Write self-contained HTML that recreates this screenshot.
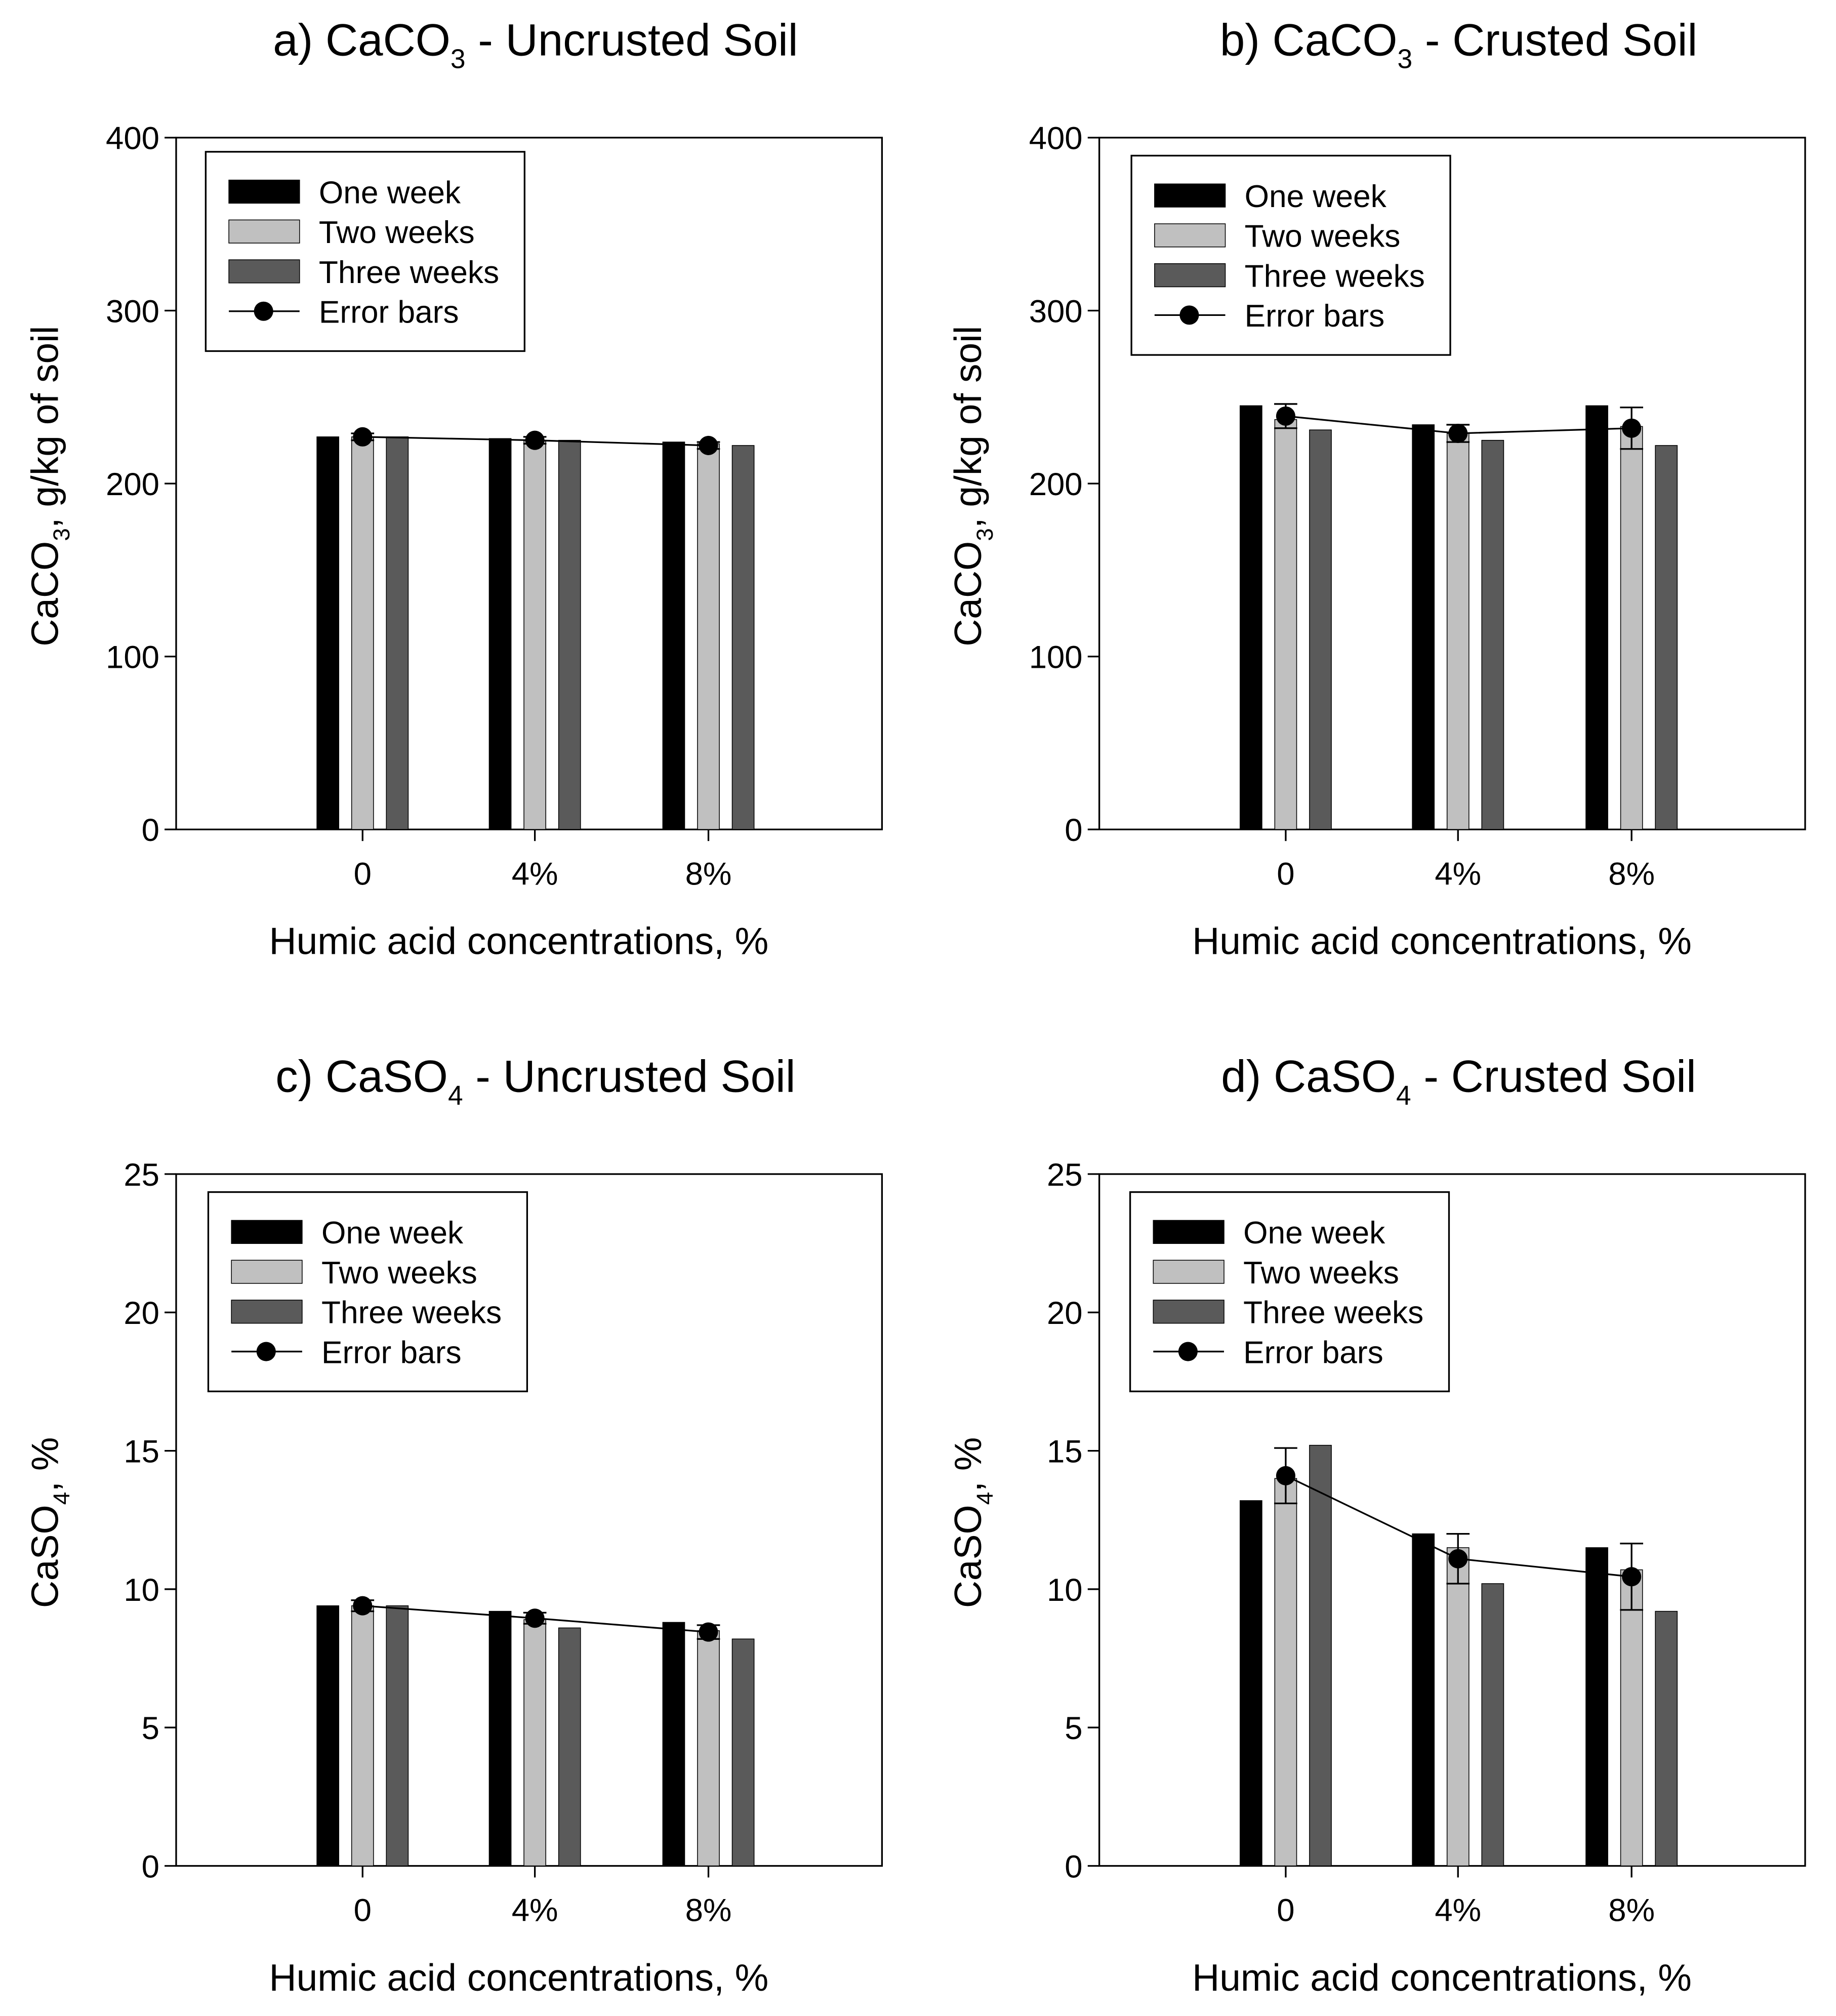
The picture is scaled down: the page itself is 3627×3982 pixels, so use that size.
<!DOCTYPE html>
<html><head><meta charset="utf-8"><style>
html,body{margin:0;padding:0;background:#fff;}
svg{display:block;font-family:"Liberation Sans",Arial,sans-serif;}
</style></head><body>
<svg id="fig" width="3627" height="3982" viewBox="0 0 1428 1567.7" xmlns="http://www.w3.org/2000/svg"></svg>
<script>
const categories = ["0", "4%", "8%"];
const seriesNames = ["One week", "Two weeks", "Three weeks"];
const aOne = [227, 226, 224];
const aTwo = [227, 225, 223];
const aThree = [227, 225, 222];
const aMean = [227, 225, 222];
const aErr = [2, 2, 2];
const bOne = [245, 234, 245];
const bTwo = [237, 229, 233];
const bThree = [231, 225, 222];
const bMean = [239, 229, 232];
const bErr = [7, 5, 12];
const cOne = [9.4, 9.2, 8.8];
const cTwo = [9.4, 8.9, 8.5];
const cThree = [9.4, 8.6, 8.2];
const cMean = [9.4, 8.95, 8.45];
const cErr = [0.2, 0.2, 0.25];
const dOne = [13.2, 12.0, 11.5];
const dTwo = [14.0, 11.5, 10.7];
const dThree = [15.2, 10.2, 9.2];
const dMean = [14.1, 11.1, 10.45];
const dErr = [1.0, 0.9, 1.2];
const ticksCaCO3 = [0, 100, 200, 300, 400];
const ticksCaSO4 = [0, 5, 10, 15, 20, 25];

const NS = "http://www.w3.org/2000/svg";
const svg = document.getElementById("fig");
function mk(tag, attrs, parent, text) {
  const e = document.createElementNS(NS, tag);
  for (const k in attrs) e.setAttribute(k, attrs[k]);
  if (text !== undefined) e.textContent = text;
  (parent || svg).appendChild(e);
  return e;
}
const colors = ["#000000", "#c0c0c0", "#5a5a5a"];

function panel(id, L, T, R, B, ymax, ticks, series, mean, err, title, sub, ylab, ysub, ylabSuffix, legXY) {
  const g = mk("g", {});
  
  
  const y = v => B - (v / ymax) * (B - T);
  const catX = [L + 145, L + 279, L + 414];
  const x = i => catX[i];
  const t = mk("text", {x: (L + R) / 2 + 5, y: T - 64, "font-size": 35, "text-anchor": "middle"}, g);
  
  
  mk("tspan", {}, t, title);
  mk("tspan", {"font-size": 21, dy: 10}, t, sub);
  mk("tspan", {dy: -10}, t, " - " + (id === "a" || id === "c" ? "Uncrusted Soil" : "Crusted Soil"));
  const fr = mk("rect", {x: L, y: T, width: R - L, height: B - T, fill: "none", stroke: "#000", "stroke-width": 1.3}, g);
  
  
  ticks.forEach(v => {
    mk("line", {x1: L - 9, x2: L, y1: y(v), y2: y(v), stroke: "#000", "stroke-width": 1.3}, g);
    const tl = mk("text", {x: L - 13, y: y(v) + 9, "font-size": 25, "text-anchor": "end"}, g, String(v));
    
    
  });
  categories.forEach((c, i) => {
    mk("line", {x1: x(i), x2: x(i), y1: B, y2: B + 9, stroke: "#000", "stroke-width": 1.3}, g);
    const xl = mk("text", {x: x(i), y: B + 43, "font-size": 25, "text-anchor": "middle"}, g, c);
    
    
  });
  const xt = mk("text", {x: (L + R) / 2 - 8, y: B + 97, "font-size": 29.5, "text-anchor": "middle"}, g, "Humic acid concentrations, %");
  
  
  const yt = mk("text", {transform: `translate(${L - 92},${(T + B) / 2 + 2}) rotate(-90)`, "font-size": 29.5, "text-anchor": "middle"}, g);
  
  
  mk("tspan", {}, yt, ylab);
  mk("tspan", {"font-size": 18, dy: 9}, yt, ysub);
  mk("tspan", {dy: -9}, yt, ylabSuffix);
  const offs = [-27, 0, 27];
  series.forEach((vals, s) => {
    vals.forEach((v, i) => {
      const r = mk("rect", {x: x(i) + offs[s] - 8.5, y: y(v), width: 17, height: B - y(v), fill: colors[s], stroke: "#000", "stroke-width": 0.6}, g);
      
      
    });
  });
  const pts = mean.map((m, i) => x(i) + "," + y(m)).join(" ");
  const pl = mk("polyline", {points: pts, fill: "none", stroke: "#000", "stroke-width": 1.3}, g);
  
  
  mean.forEach((m, i) => {
    const e1 = y(m + err[i]), e2 = y(m - err[i]);
    mk("line", {x1: x(i), x2: x(i), y1: e1, y2: e2, stroke: "#000", "stroke-width": 1.3}, g);
    mk("line", {x1: x(i) - 9, x2: x(i) + 9, y1: e1, y2: e1, stroke: "#000", "stroke-width": 1.3}, g);
    mk("line", {x1: x(i) - 9, x2: x(i) + 9, y1: e2, y2: e2, stroke: "#000", "stroke-width": 1.3}, g);
    const c = mk("circle", {cx: x(i), cy: y(m), r: 7.5, fill: "#000"}, g);
    
    
  });
  const [lx, ly] = legXY;
  const lg = mk("g", {}, g);
  
  
  mk("rect", {x: lx, y: ly, width: 248, height: 155, fill: "#fff", stroke: "#000", "stroke-width": 1.3}, lg);
  const names = seriesNames.concat(["Error bars"]);
  names.forEach((n, k) => {
    const ry = ly + 31 + k * 31;
    if (k < 3) {
      mk("rect", {x: lx + 18, y: ry - 9, width: 55, height: 18, fill: colors[k], stroke: "#000", "stroke-width": 0.6}, lg);
    } else {
      mk("line", {x1: lx + 18, x2: lx + 73, y1: ry, y2: ry, stroke: "#000", "stroke-width": 1.3}, lg);
      mk("circle", {cx: lx + 45, cy: ry, r: 7.5, fill: "#000"}, lg);
    }
    const lt = mk("text", {x: lx + 88, y: ry + 9, "font-size": 24.5}, lg, n);
    
    
  });
}
panel("a", 137, 107, 686, 645, 400, ticksCaCO3, [aOne, aTwo, aThree], aMean, aErr, "a) CaCO", "3", "CaCO", "3", ", g/kg of soil", [160, 118]);
panel("b", 855, 107, 1404, 645, 400, ticksCaCO3, [bOne, bTwo, bThree], bMean, bErr, "b) CaCO", "3", "CaCO", "3", ", g/kg of soil", [880, 121]);
panel("c", 137, 913, 686, 1451, 25, ticksCaSO4, [cOne, cTwo, cThree], cMean, cErr, "c) CaSO", "4", "CaSO", "4", ", %", [162, 927]);
panel("d", 855, 913, 1404, 1451, 25, ticksCaSO4, [dOne, dTwo, dThree], dMean, dErr, "d) CaSO", "4", "CaSO", "4", ", %", [879, 927]);
</script>
</body></html>
